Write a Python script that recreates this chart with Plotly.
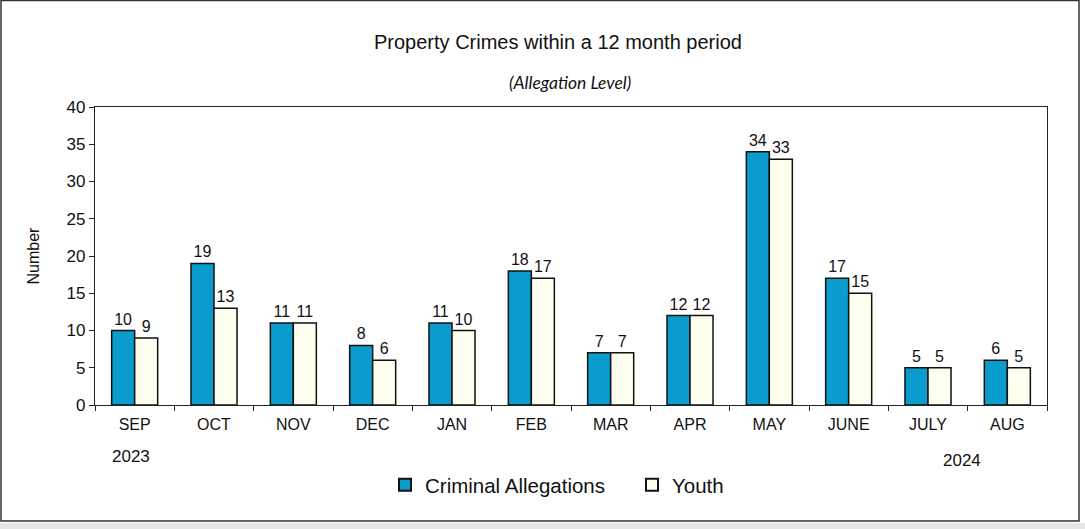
import plotly.graph_objects as go

months = ["SEP", "OCT", "NOV", "DEC", "JAN", "FEB", "MAR", "APR", "MAY", "JUNE", "JULY", "AUG"]
criminal = [10, 19, 11, 8, 11, 18, 7, 12, 34, 17, 5, 6]
youth = [9, 13, 11, 6, 10, 17, 7, 12, 33, 15, 5, 5]
y_ticks = [0, 5, 10, 15, 20, 25, 30, 35, 40]

W, H = 1085, 529
L, R, T, B = 95, 1047, 107, 405

fig = go.Figure()
fig.add_trace(go.Bar(
    x=months, y=criminal, name="Criminal Allegations",
    marker=dict(color="#0a9ccc", line=dict(color="#111111", width=1.5)),
    text=criminal, textposition="outside", cliponaxis=False,
    textfont=dict(family="Liberation Sans, Arial", size=16, color="#111111"),
))
fig.add_trace(go.Bar(
    x=months, y=youth, name="Youth",
    marker=dict(color="#fffff0", line=dict(color="#111111", width=1.5)),
    text=youth, textposition="outside", cliponaxis=False,
    textfont=dict(family="Liberation Sans, Arial", size=16, color="#111111"),
))

def px(x):
    return (x - L) / (R - L)

def py(y):
    return (B - y) / (B - T)

def note(text, x, y, size, family=None):
    f = dict(size=size)
    if family:
        f["family"] = family
    return dict(text=text, x=px(x), y=py(y), xref="paper", yref="paper",
                xanchor="center", yanchor="middle", showarrow=False, font=f)

fig.update_layout(
    width=W, height=H,
    margin=dict(l=L, r=W - R, t=T, b=H - B),
    paper_bgcolor="white", plot_bgcolor="white",
    barmode="group", bargap=0.42, bargroupgap=0,
    font=dict(family="Liberation Sans, Arial", size=16, color="#111111"),
    showlegend=True,
    legend=dict(orientation="h", x=px(385), xanchor="left", y=py(485), yanchor="middle",
                font=dict(size=20.5, color="#111111"), entrywidth=202, entrywidthmode="pixels",
                itemsizing="constant"),
    xaxis=dict(
        showline=True, linecolor="#222222", linewidth=1.2, mirror=True,
        ticks="outside", tickson="boundaries", ticklen=5, tickcolor="#222222",
        tickfont=dict(size=16), showgrid=False, ticklabelstandoff=5,
    ),
    yaxis=dict(
        range=[0, 40], tickvals=y_ticks, showline=True, linecolor="#222222", linewidth=1.2,
        mirror=True, ticks="outside", ticklen=5, tickcolor="#222222", showgrid=False,
        tickfont=dict(size=17), zeroline=False,
        title=dict(text="Number", font=dict(size=16), standoff=22),
    ),
    annotations=[
        note("Property Crimes within a 12 month period", 558, 42, 20),
        note("<i>(Allegation Level)</i>", 570, 82, 17.5, "Lato"),
        note("2023", 131, 456, 17),
        note("2024", 962, 460, 17),
    ],
    shapes=[
        dict(type="rect", xref="paper", yref="paper", x0=px(1), x1=px(1079),
             y0=py(521), y1=py(0.5), line=dict(color="#333333", width=1.5)),
        dict(type="rect", xref="paper", yref="paper", x0=px(0), x1=px(1085),
             y0=py(529), y1=py(523), line=dict(width=0), fillcolor="#e6e6e6"),
    ],
)

fig.write_html("out.html", config={"displayModeBar": False},
               post_script="document.body.style.margin='0';document.body.style.overflow='hidden';")
